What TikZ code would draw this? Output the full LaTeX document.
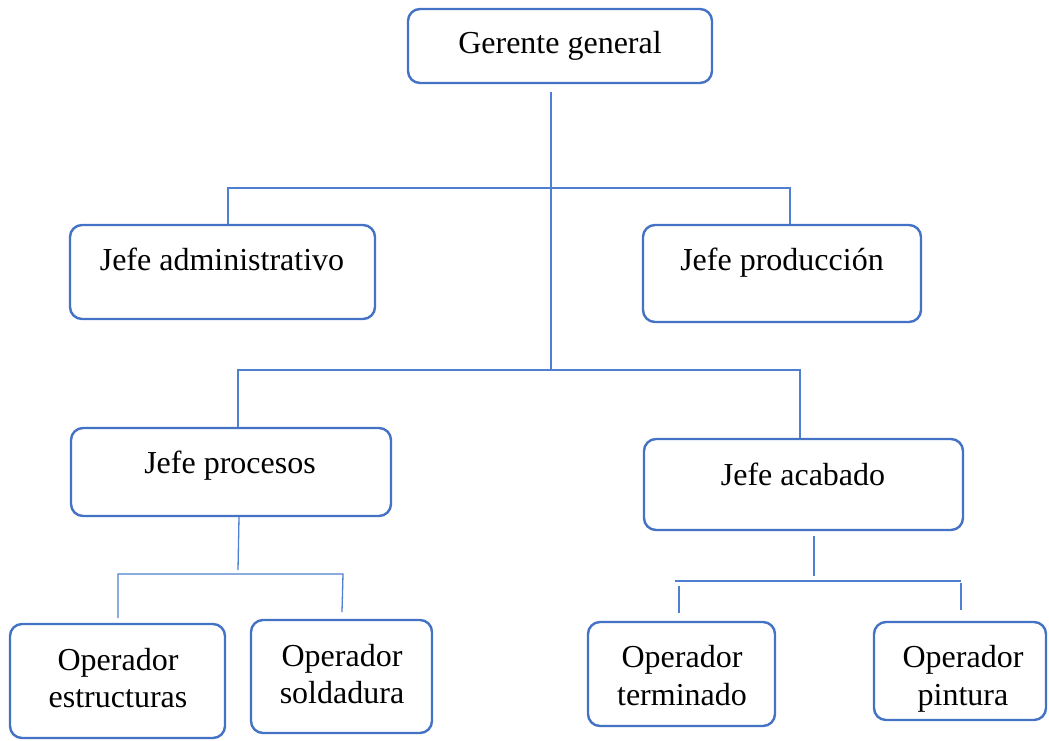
\documentclass[tikz,border=0pt]{standalone}
\usepackage{fontspec}
\setmainfont{Liberation Serif}
\definecolor{boxblue}{HTML}{4472C4}
\definecolor{lineblue}{HTML}{4F7FD0}
\begin{document}
\begin{tikzpicture}[x=1pt,y=-1pt,
  box/.style={draw=boxblue, line width=2.4pt, rounded corners=12pt, fill=white, inner sep=0pt},
  lbl/.style={anchor=base, inner sep=0pt, font=\fontsize{32}{38}\selectfont},
  conn/.style={draw=lineblue, line width=1.3pt}]
\useasboundingbox (0,0) rectangle (1049,740);
% boxes
\node[box, minimum width=304pt, minimum height=74pt] (gg) at (560,46) {};
\node[box, minimum width=305pt, minimum height=94pt] (ja) at (222.5,272) {};
\node[box, minimum width=278pt, minimum height=97pt] (jp) at (782,273.5) {};
\node[box, minimum width=320pt, minimum height=88pt] (jpr) at (231,472) {};
\node[box, minimum width=319pt, minimum height=91pt] (jac) at (803.5,484.5) {};
\node[box, minimum width=215pt, minimum height=114pt] (oe) at (117.5,681) {};
\node[box, minimum width=181pt, minimum height=113pt] (os) at (341.5,676.5) {};
\node[box, minimum width=187pt, minimum height=104pt] (ot) at (681.5,674) {};
\node[box, minimum width=172pt, minimum height=98pt] (op) at (960,671) {};
% texts
\node[lbl] (gg-t) at (560,53) {Gerente general};
\node[lbl] (ja-t) at (222,270) {Jefe administrativo};
\node[lbl] (jp-t) at (782,270) {Jefe producción};
\node[lbl] (jpr-t) at (230,473) {Jefe procesos};
\node[lbl] (jac-t) at (803,485) {Jefe acabado};
\node[lbl] (oe-t1) at (118,670) {Operador};
\node[lbl] (oe-t2) at (118,707) {estructuras};
\node[lbl] (os-t1) at (342,666) {Operador};
\node[lbl] (os-t2) at (342,703) {soldadura};
\node[lbl] (ot-t1) at (682,667) {Operador};
\node[lbl] (ot-t2) at (682,705) {terminado};
\node[lbl] (op-t1) at (963,667) {Operador};
\node[lbl] (op-t2) at (963,705) {pintura};
% junction coordinates
\coordinate (s0) at (551,92);
\coordinate (s1) at (551,370);
\coordinate (h1l) at (228,188);
\coordinate (h1r) at (790,188);
\coordinate (h2l) at (238,370);
\coordinate (h2r) at (800,370);
\coordinate (p0) at (239,517);
\coordinate (p1) at (238,570);
\coordinate (h3l) at (118,574);
\coordinate (h3r) at (343,574);
\coordinate (h3re) at (342,612);
\coordinate (h3le) at (118,618);
\coordinate (a0) at (814,536);
\coordinate (a1) at (814,576);
\coordinate (h4l) at (675,581);
\coordinate (h4r) at (961,581);
\coordinate (v4l) at (679,586);
\coordinate (v4le) at (679,613);
\coordinate (v4r) at (961,583);
\coordinate (v4re) at (961,610);
% connectors
\draw[conn] (s0) -- (s1);
\draw[conn] (h1l |- ja.north) -- (h1l) -- (h1r) -- (h1r |- jp.north);
\draw[conn] (h2l |- jpr.north) -- (h2l) -- (h2r) -- (h2r |- jac.north);
\draw[conn] (p0) -- (p1);
\draw[conn] (h3le) -- (h3l) -- (h3r) -- (h3re);
\draw[conn] (a0) -- (a1);
\draw[conn] (h4l) -- (h4r);
\draw[conn] (v4l) -- (v4le);
\draw[conn] (v4r) -- (v4re);
\end{tikzpicture}
\end{document}
